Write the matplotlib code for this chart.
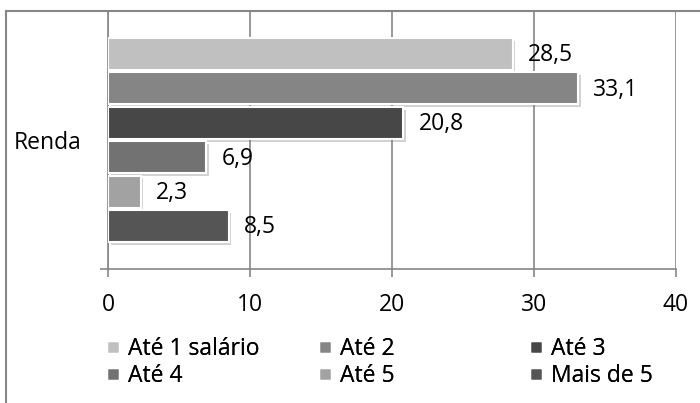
import matplotlib.pyplot as plt
import matplotlib.patheffects as pe
from matplotlib.lines import Line2D

plt.rcParams['font.family'] = ['Open Sans', 'DejaVu Sans']
FS = 16.5

categories = ["Até 1 salário", "Até 2", "Até 3", "Até 4", "Até 5", "Mais de 5"]
values = [28.5, 33.1, 20.8, 6.9, 2.3, 8.5]
colors = ["#c0c0c0", "#858585", "#474747", "#727272", "#a2a2a2", "#555555"]
group_label = "Renda"
xticks = [0, 10, 20, 30, 40]

fig = plt.figure(figsize=(7, 4.03), dpi=100)
ax = fig.add_axes([108 / 700, 1 - 269 / 403, 568 / 700, 258 / 403])

shadow = [pe.SimplePatchShadow(offset=(2, -2), shadow_rgbFace='#808080', alpha=0.35), pe.Normal()]
ypos = list(range(len(values)))
bars = ax.barh(ypos, values, height=0.93, color=colors, edgecolor='white', linewidth=1.5, zorder=3)
for b in bars:
    b.set_path_effects(shadow)

for y, v in zip(ypos, values):
    ax.annotate(f"{v:.1f}".replace('.', ','), (v, y), xytext=(11, -1), textcoords='offset points',
                va='center', ha='left', fontsize=FS, zorder=4)

ax.set_xlim(0, 40)
ax.set_ylim(len(values) - 1 + 1.25, -1.25)
ax.set_xticks(xticks)
ax.set_xticklabels([str(t) for t in xticks], fontsize=FS)
ax.grid(axis='x', color='#868686', linewidth=1.2, zorder=0)

ax.set_yticks([(len(values) - 1) / 2])
ax.set_yticklabels([group_label], fontsize=FS)
ax.set_yticks([len(values) - 1 + 1.25], minor=True)
ax.tick_params(axis='y', which='major', length=0, pad=19)
ax.tick_params(axis='y', which='minor', length=6, color='#868686', width=1.2)
ax.tick_params(axis='x', length=6, color='#868686', width=1.2, pad=11)

for s in ['top', 'right']:
    ax.spines[s].set_visible(False)
for s in ['left', 'bottom']:
    ax.spines[s].set_color('#868686')
    ax.spines[s].set_linewidth(1.2)

# outer chart frame (cut off at right and bottom)
fig.add_artist(Line2D([6 / 700, 6 / 700], [0, 1 - 11 / 403], color='#868686', lw=1.5))
fig.add_artist(Line2D([6 / 700, 1], [1 - 11 / 403, 1 - 11 / 403], color='#868686', lw=1.5))

# legend: three columns, two rows each, filled row by row
col_x = [106 / 700, 318 / 700, 529 / 700]
for c in range(3):
    idx = [c, c + 3]
    handles = [Line2D([], [], marker='s', linestyle='none', markersize=7.5,
                      markerfacecolor=colors[i], markeredgecolor='none') for i in idx]
    leg = fig.legend(handles, [categories[i] for i in idx], loc='upper left',
                     bbox_to_anchor=(col_x[c], 1 - 337 / 403), frameon=False,
                     fontsize=FS, handlelength=0.65, handletextpad=0.3,
                     labelspacing=0.12, borderpad=0, borderaxespad=0)
    fig.add_artist(leg)

fig.savefig('out.png', dpi=100)
